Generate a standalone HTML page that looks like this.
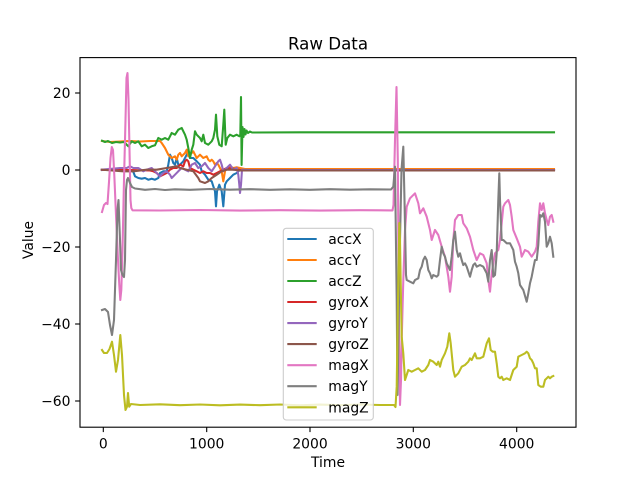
<!DOCTYPE html>
<html><head><meta charset="utf-8"><style>
html,body{margin:0;padding:0;background:#fff;}
svg{display:block;}
text{font-family:"DejaVu Sans","Liberation Sans",sans-serif;fill:#000;}
</style></head><body>
<svg width="640" height="480" viewBox="0 0 640 480" xmlns="http://www.w3.org/2000/svg">
<defs><clipPath id="c"><rect x="80" y="57.6" width="496" height="369.6"/></clipPath></defs>
<rect width="640" height="480" fill="#fff"/>
<g clip-path="url(#c)" fill="none" stroke-width="2.08" stroke-linejoin="round" stroke-linecap="square">
<!-- accX -->
<polyline stroke="#1f77b4" points="102,170 110,169.5 120,170.5 130,170 133,171 135,176.3 138.3,178 141.7,178.7 145,178 148.3,179.7 151.7,178.7 155,179.7 158.3,178 160,173 163.3,171.3 166.7,171.3 168.3,164.7 170,154.7 171.7,158 173.3,163 175,164.7 176.7,158 178.3,164.7 180,164.7 183.3,161.3 186.7,154.7 188.3,151.3 190,158 193.3,158 196.7,161.3 200,164.7 201.7,171.3 205,174.7 208.3,179.7 211.7,181.3 213.3,186.3 215,191.3 216,206.3 217,191.3 219.3,184.7 221.7,191.3 223.3,206.3 225,184.7 226.7,181.3 230,178 233.3,174.7 236.7,173 240,169.7 554,170"/>
<!-- accY -->
<polyline stroke="#ff7f0e" points="102,141 110,142 120,141.5 130,141 140,141.5 150,141 160,141 161.7,143 165,148 168.3,154.7 171.7,158 175,156.3 176.7,159.7 178.3,154.7 180,153 181.7,156.3 185,153 186.7,149.7 188.3,156.3 190,154.7 193.3,151.3 196.7,158 200,154.7 203.3,158 206.7,156.3 208.3,159.7 210,161.3 211.7,159.7 213.3,161.3 215,164.7 216.7,163 218.3,164.7 220,168 221.7,171.3 223.3,181.3 225,171.3 226.7,168 230,166.3 233.3,168 236.7,167.3 240,168 245,169 554,169"/>
<!-- accZ -->
<polyline stroke="#2ca02c" points="102,140.7 105,142 108,141 112,143 116,142 120,142.5 124,142 128.3,146.3 131.7,141.3 135,143 138.3,141.3 141.7,146.3 145,144.7 148.3,148 151.7,146.3 155,145.3 158.3,138 161.7,139.7 165,138 168.3,139.7 171.7,133 175,134.7 178.3,129.7 181.7,128 185,134.7 186.7,139.7 188.3,148 190,158 191.7,149.7 193.3,144.7 195,131.3 196.7,134.7 200,138 201.7,141.3 203.3,134.7 205,143 208.3,144.7 211.7,141.3 213.3,138 215,129.7 216,114.7 217.3,136.3 219.3,144.7 221.7,146.3 223.3,124.7 224.3,109.7 225.7,144.7 227.3,138 230,134.7 233.3,136.3 236.7,134.7 239.3,136.3 240.3,134.7 241,97 241.6,165 242.5,127 243.5,137 244.5,129 245.5,134.5 246.5,130.5 248,133 250,131.5 252,132.5 300,132.3 554,132.3"/>
<!-- gyroX -->
<polyline stroke="#d62728" points="102,170 130,170 150,170.5 153.3,171.3 156.7,173 160,176.3 163.3,174.7 166.7,173 170,169.7 173.3,168 176.7,168 180,164.7 183.3,166.3 185,161.3 186.7,159.7 188.3,161.3 190,168 193.3,169.7 196.7,171.3 200,173 203.3,171.3 206.7,173 210,173 213.3,174.7 216.7,173 220,171.3 223.3,169.7 226.7,168 233.3,168.7 240,170 554,170"/>
<!-- gyroY -->
<polyline stroke="#9467bd" points="101.7,169.7 120,168 126.7,168 130,166.3 133.3,168 138.3,168 143.3,171.3 146.7,169.7 151.7,168 155,171.3 158.3,174.7 160,176.3 163.3,173 166.7,171.3 170,174.7 171.7,178 175,174.7 178.3,171.3 181.7,168 185,169.7 188.3,171.3 191.7,164.7 195,163 198.3,168 201.7,166.3 205,163 208.3,168 211.7,171.3 215,166.3 218.3,161.3 220,159.7 221.7,164.7 223.3,171.3 226.7,168 230,164.7 233.3,169.7 236.7,168 238.3,174.7 239.3,184.7 240,193 241,184.7 242,169.7 250,170 554,170"/>
<!-- gyroZ -->
<polyline stroke="#8c564b" points="101.7,169.7 123.3,171.3 133.3,171.3 146.7,169.7 156.7,169.7 166.7,168 176.7,166.3 180,168 186.7,169.7 193.3,171.3 198.3,178 200,181.3 205,183 208.3,181.3 211.7,178 216.7,174.7 221.7,171.3 226.7,169.7 233.3,169.7 240,170.5 554,170.5"/>
<!-- magX -->
<polyline stroke="#e377c2" points="102,212 104,205 106,203 107.5,204 109,182 110.5,158 111.8,147 113,150 114.3,175 116,215 118,260 119.3,285 120.3,300 121.3,290 122.5,250 124,180 125.5,120 126.5,78 127.5,73 128.5,100 129.5,150 130.5,200 131.3,208 132.5,210.3 160,210.5 200,210 240,210.6 280,210.2 320,210.6 360,210.2 392.5,210.4 393.5,205 395,140 396.5,87 397.8,160 399,330 400,405 401,380 401.7,340 403.3,280 405,230 406.7,206.7 410,198.3 415,193.3 418.3,203.3 420,213.3 423.3,208.3 426.7,216.7 430,230 431.7,240 435,230 438.3,235 441.7,246.7 445,256.7 448.3,276.7 450,291.7 451.7,276.7 453.3,240 455,220 458.3,215 461.7,215 463.3,223.3 466.7,228.3 470,236.7 473.3,250 476.7,260 480,253.3 483.3,255 486.7,263.3 488.3,280 490,291.7 491.7,273.3 495,253.3 498.3,250 500,240 501.7,223.3 503.3,206.7 505,203.3 508.3,200 510,205 511.7,216.7 513.3,230 516.7,238.3 520,246.7 521.7,256.7 525,250 528.3,251.7 531.7,256.7 535,251.7 536.7,246.7 538.3,221.7 540,203.3 541.7,210 543.3,203.3 545,213.3 546.7,220 548.3,225 550,216.7 551.7,215 553.3,221.7"/>
<!-- magY -->
<polyline stroke="#7f7f7f" points="102,310 105,309 108,312 110,325 112,335 114,320 116,260 117.5,210 118.5,200 120,240 121,270 122.5,275 124,277 125,260 126,190 127,180 128,178 130,183 132,187 135,188.5 145,189.8 155,189 165,190 175,189.3 190,189.8 210,189 230,189.7 250,189.2 270,189.8 290,189.3 310,189.8 330,189.2 350,189.7 370,189.3 391,189.5 393.3,186.7 395,166.7 396.7,300 397.5,395 398.5,330 400,240 401.5,170 403.3,146.7 404.5,200 406,275 406.7,280 410,281.7 413.3,283.3 415,280 418.3,278.3 420,270 421.7,266.7 423.3,260 425,256.7 426.7,260 428.3,270 430,273.3 431.7,278.3 433.3,275 436.7,276.7 438.3,275 440,260 441.7,246.7 443.3,253.3 445,256.7 446.7,263.3 450,270 451.7,256.7 453.3,240 455,231.7 456.7,250 458.3,256.7 460,253.3 461.7,260 463.3,265 465,263.3 466.7,266.7 470,276.7 471.7,270 473.3,265 475,263.3 476.7,266.7 480,265 483.3,266.7 485,270 486.7,273.3 488.3,281.7 490,260 491.7,250 493.3,276.7 495,275 496.7,253.3 498.3,200 499.3,173.3 500,200 501.7,240 503.3,240 506.7,243.3 510,243.3 513.3,250 515,261.7 516.7,266.7 518.3,273.3 520,285 523.3,290 526.7,301.7 528.3,293.3 530,283.3 531.7,276.7 533.3,268.3 535,260 536.7,260 538.3,245 540,215 541.7,216.7 543.3,213.3 545,221.7 546.7,246.7 548.3,243.3 550,236.7 551.7,243.3 553.3,256.7"/>
<!-- magZ -->
<polyline stroke="#bcbd22" points="102,350 104,353 107,353 109.5,349 112,341.7 114,355 116,371.7 118,360 120.3,335 122,355 124,395 125.5,410 127,406.7 128,393 129.2,406.7 131,404 140,405 160,404.3 180,405.2 200,404.5 220,405.3 240,404.6 260,405.2 280,404.5 300,405.3 320,404.6 340,405.2 360,404.5 380,405 394,405 395.5,407 396.7,386.7 398,300 399.3,223 400,240 401,300 401.7,336.7 403.3,353.3 405,380 408.3,370 411.7,371.7 415,370 418.3,368.3 421.7,371.7 425,370 428.3,365 430,360 433.3,361.7 436.7,365 438.3,361.7 440,366.7 441.7,360 445,353.3 447.3,346.7 449.3,333.3 450.7,343.3 453.3,370 455,376.7 458.3,373.3 461.7,366.7 465,365 468.3,361.7 470,358.3 471.7,360 475,353.3 476.7,358.3 480,358.3 483.3,356.7 486.7,343.3 489,338.3 490.7,350 492.7,351.7 495,351.7 496.7,363.3 498.3,376.7 500,378.3 501.7,376.7 503.3,380 506.7,378.3 510,380 513.3,370 516.7,366.7 518.3,356.7 521.7,355 525,353.3 526.7,351.7 528.3,353.3 530,358.3 531.7,360 533.3,363.3 535,368.3 536.7,368.3 538.3,385 540.7,386.7 543.3,386.7 545,380 546.7,378.3 548.3,376.7 550,378.3 551.7,376.7 553.3,376"/>
</g>
<!-- axes frame -->
<rect x="80" y="57.6" width="496" height="369.6" fill="none" stroke="#000" stroke-width="1.1"/>
<!-- ticks -->
<g stroke="#000" stroke-width="1.1">
<line x1="103.3" y1="427.2" x2="103.3" y2="432.1"/>
<line x1="206.7" y1="427.2" x2="206.7" y2="432.1"/>
<line x1="310" y1="427.2" x2="310" y2="432.1"/>
<line x1="413.3" y1="427.2" x2="413.3" y2="432.1"/>
<line x1="516.7" y1="427.2" x2="516.7" y2="432.1"/>
<line x1="75.1" y1="93" x2="80" y2="93"/>
<line x1="75.1" y1="170" x2="80" y2="170"/>
<line x1="75.1" y1="247" x2="80" y2="247"/>
<line x1="75.1" y1="324" x2="80" y2="324"/>
<line x1="75.1" y1="401" x2="80" y2="401"/>
</g>
<g font-size="13.9" text-anchor="middle">
<text x="103.3" y="448.5">0</text>
<text x="206.7" y="448.5">1000</text>
<text x="310" y="448.5">2000</text>
<text x="413.3" y="448.5">3000</text>
<text x="516.7" y="448.5">4000</text>
</g>
<g font-size="13.9" text-anchor="end">
<text x="70.5" y="98">20</text>
<text x="70.5" y="175">0</text>
<text x="70.5" y="252">−20</text>
<text x="70.5" y="329">−40</text>
<text x="70.5" y="406">−60</text>
</g>
<text x="328" y="467" font-size="13.9" text-anchor="middle">Time</text>
<text transform="translate(33,240) rotate(-90)" font-size="13.9" text-anchor="middle">Value</text>
<text x="328" y="49.3" font-size="16.67" text-anchor="middle">Raw Data</text>
<!-- legend -->
<rect x="283.3" y="228.3" width="90" height="191.7" rx="3" ry="3" fill="#fff" fill-opacity="0.8" stroke="#cccccc" stroke-width="1.1"/>
<g stroke-width="2.08" fill="none">
<line x1="287.3" y1="239" x2="316.7" y2="239" stroke="#1f77b4"/>
<line x1="287.3" y1="260" x2="316.7" y2="260" stroke="#ff7f0e"/>
<line x1="287.3" y1="281" x2="316.7" y2="281" stroke="#2ca02c"/>
<line x1="287.3" y1="302" x2="316.7" y2="302" stroke="#d62728"/>
<line x1="287.3" y1="323.1" x2="316.7" y2="323.1" stroke="#9467bd"/>
<line x1="287.3" y1="344.1" x2="316.7" y2="344.1" stroke="#8c564b"/>
<line x1="287.3" y1="365.2" x2="316.7" y2="365.2" stroke="#e377c2"/>
<line x1="287.3" y1="386.2" x2="316.7" y2="386.2" stroke="#7f7f7f"/>
<line x1="287.3" y1="407.3" x2="316.7" y2="407.3" stroke="#bcbd22"/>
</g>
<g font-size="13.9">
<text x="328.3" y="244">accX</text>
<text x="328.3" y="265">accY</text>
<text x="328.3" y="286">accZ</text>
<text x="328.3" y="307">gyroX</text>
<text x="328.3" y="328.1">gyroY</text>
<text x="328.3" y="349.1">gyroZ</text>
<text x="328.3" y="370.2">magX</text>
<text x="328.3" y="391.2">magY</text>
<text x="328.3" y="412.3">magZ</text>
</g>
</svg>
</body></html>
